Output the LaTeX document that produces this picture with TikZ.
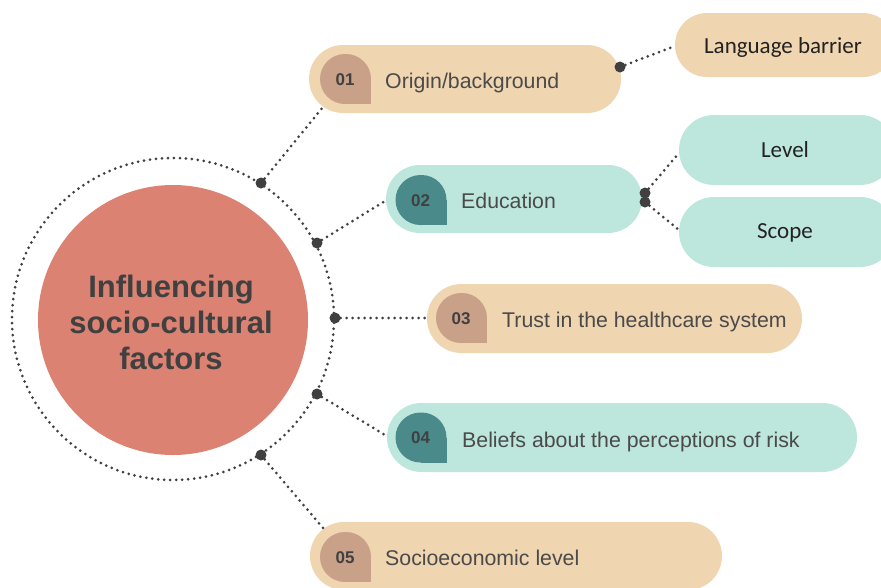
\documentclass[tikz,border=0pt]{standalone}
\usepackage{fontspec}
\setmainfont{Liberation Sans}
\newfontfamily\subfont{Carlito}
\definecolor{beige}{HTML}{EFD5B0}
\definecolor{beigeD}{HTML}{C9A088}
\definecolor{tealL}{HTML}{BDE6DD}
\definecolor{tealD}{HTML}{4A8A8B}
\definecolor{coral}{HTML}{DC8272}
\definecolor{ink}{HTML}{404040}
\definecolor{bodyc}{HTML}{4A4A4A}
\definecolor{darkc}{HTML}{222222}
\tikzset{
 pill/.style={rounded corners=34pt, minimum height=68pt, inner sep=0pt, fill=#1},
 badge/.style={fill=#1, rounded corners=25pt, minimum width=51pt, minimum height=50pt, inner sep=0pt},
 num/.style={font=\bfseries\fontsize{17}{17}\selectfont, text=ink, inner sep=0pt},
 lbl/.style={font=\fontsize{21.3}{24}\selectfont, text=bodyc, inner sep=0pt, anchor=base west},
 sublbl/.style={font=\subfont\fontsize{23}{26}\selectfont, text=darkc, inner sep=0pt, anchor=base},
 dotn/.style={circle, fill=ink, minimum size=11pt, inner sep=0pt},
 link/.style={draw=ink, line width=3pt, line cap=round, dash pattern=on 0pt off 6pt},
}
\begin{document}
\begin{tikzpicture}[x=1pt,y=-1pt]
\useasboundingbox (0,0) rectangle (881,587);
\begin{scope}
\clip (0,0) rectangle (881,587);
% centre
\node[circle, minimum size=322pt, inner sep=0pt, link] (ring) at (173,319) {};
\node[circle, fill=coral, minimum size=270pt, inner sep=0pt] (core) at (173,320) {};
\node[align=center, font=\bfseries\fontsize{31}{36}\selectfont, text=ink, inner sep=0pt] (title) at (171,322) {Influencing\\socio-cultural\\factors};
% pills
\node[pill=beige, minimum width=312pt] (p1) at (465,79) {};
\node[pill=tealL, minimum width=256pt] (p2) at (514,199) {};
\node[pill=beige, minimum width=375pt, minimum height=69pt, rounded corners=34.5pt] (p3) at (614.5,318.5) {};
\node[pill=tealL, minimum width=470pt, minimum height=69pt, rounded corners=34.5pt] (p4) at (622,437.5) {};
\node[pill=beige, minimum width=412pt] (p5) at (516,556) {};
\node[pill=beige, minimum width=220pt, minimum height=64pt, rounded corners=32pt] (lb) at (785,45) {};
\node[pill=tealL, minimum width=216pt, minimum height=70pt, rounded corners=35pt] (lv) at (787,150) {};
\node[pill=tealL, minimum width=216pt, minimum height=70pt, rounded corners=35pt] (sc) at (787,232) {};
% badges
\node[badge=beigeD] (b1) at (345.5,79) {};
\fill[beigeD] (b1.center) rectangle (b1.south east);
\node[badge=tealD] (b2) at (421,200) {};
\fill[tealD] (b2.center) rectangle (b2.south east);
\node[badge=beigeD] (b3) at (461.5,318) {};
\fill[beigeD] (b3.center) rectangle (b3.south east);
\node[badge=tealD] (b4) at (421,437.5) {};
\fill[tealD] (b4.center) rectangle (b4.south east);
\node[badge=beigeD] (b5) at (345.5,557) {};
\fill[beigeD] (b5.center) rectangle (b5.south east);
\node[num] (n1) at (345,80) {01};
\node[num] (n2) at (420.5,200.5) {02};
\node[num] (n3) at (461,319) {03};
\node[num] (n4) at (420.5,438) {04};
\node[num] (n5) at (345,557.5) {05};
% labels
\node[lbl] (t1) at (385,88) {Origin/background};
\node[lbl] (t2) at (461,208) {Education};
\node[lbl] (t3) at (502,327) {Trust in the healthcare system};
\node[lbl] (t4) at (462,447) {Beliefs about the perceptions of risk};
\node[lbl] (t5) at (385,565) {Socioeconomic level};
\node[sublbl] (tlb) at (783,53) {Language barrier};
\node[sublbl] (tlv) at (785,157) {Level};
\node[sublbl] (tsc) at (785,238) {Scope};
% connector end points
\coordinate (e1) at (323,107);
\coordinate (e2) at (385,201);
\coordinate (e3) at (427,318);
\coordinate (e4) at (385,435);
\coordinate (e5) at (323,528);
\coordinate (elb) at (675,46);
\coordinate (elv) at (679,153);
\coordinate (esc) at (679,230);
% dots
\node[dotn] (d1) at (261,183) {};
\node[dotn] (d2) at (317,243) {};
\node[dotn] (d3) at (335,318) {};
\node[dotn] (d4) at (317,394) {};
\node[dotn] (d5) at (261,455) {};
\node[dotn] (do) at (620,67) {};
\node[dotn] (de1) at (645,193) {};
\node[dotn] (de2) at (645,202) {};
% connectors
\draw[link] (d1) -- (e1);
\draw[link] (d2) -- (e2);
\draw[link] (d3) -- (e3);
\draw[link] (d4) -- (e4);
\draw[link] (d5) -- (e5);
\draw[link] (do) -- (elb);
\draw[link] (de1) -- (elv);
\draw[link] (de2) -- (esc);
\end{scope}
\end{tikzpicture}
\end{document}
